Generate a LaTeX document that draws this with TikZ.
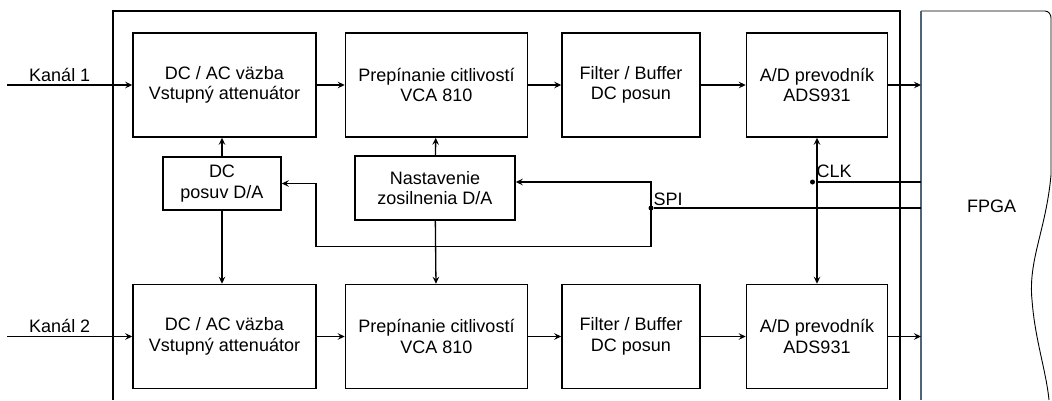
\documentclass[tikz,border=0pt]{standalone}
\usepackage{fontspec}
\setmainfont{Liberation Sans}
\usetikzlibrary{positioning, arrows.meta}

\definecolor{fpgahrana}{RGB}{80,100,120}

\begin{document}
\begin{tikzpicture}[
			x = 1pt, y = -1pt, % pixel grid, y going down
			> = {Stealth[length = 7pt, width = 6.5pt, inset = 2.5pt]}, % arrow head style
			line width = 1.3pt, % line style
			font=\fontsize{18}{20.5}\selectfont
			]
			
			\tikzstyle{blok}=[
			draw = black,
			line width = 1.5pt,
			align = center,
			inner sep = 0pt,
			minimum height = 104pt
			]
			\tikzstyle{bod}=[circle, fill = black, inner sep = 0pt, minimum size = 5pt]
			
			\useasboundingbox (0,0) rectangle (1052,400);
			
			% outer frame
			\draw[line width = 1.5pt] (113,400) -- (113,11) -- (900,11) -- (900,400);
			
			% FPGA
			\coordinate (fpga) at (921,0);
			\draw[line width = 0.9pt] (921,11) -- (1045,11) to[out=0,in=90] (1051,18) -- (1051,175)
				.. controls (1046,230) and (1028,260) .. (1032,300)
				.. controls (1035,340) and (1046,370) .. (1049,400);
			\draw[line width = 1.1pt, fpgahrana] (921,11) -- (921,400);
			\node (fpgatext) at (991.5,206.5) {FPGA};
			
			% channel 1
			\node[blok, minimum width = 183pt] (vstup1) at (224.5,85) {DC / AC väzba\\Vstupný attenuátor};
			\node[blok, minimum width = 182pt] (vca1) [right = 28pt of vstup1] {Prepínanie citlivostí\\VCA 810};
			\node[blok, minimum width = 138pt] (filter1) [right = 33pt of vca1] {Filter / Buffer\\DC posun};
			\node[blok, minimum width = 141pt] (adc1) [right = 45pt of filter1] {A/D prevodník\\ADS931};
			
			% channel 2
			\node[blok, minimum width = 183pt] (vstup2) [below = 146pt of vstup1] {DC / AC väzba\\Vstupný attenuátor};
			\node[blok, minimum width = 182pt] (vca2) [below = 146pt of vca1] {Prepínanie citlivostí\\VCA 810};
			\node[blok, minimum width = 138pt] (filter2) [below = 146pt of filter1] {Filter / Buffer\\DC posun};
			\node[blok, minimum width = 141pt] (adc2) [below = 146pt of adc1] {A/D prevodník\\ADS931};
			
			% D/A converters
			\node[blok, minimum width = 118pt, minimum height = 53pt] (dcposuv) at (222,183.5) {DC\\posuv D/A};
			\node[blok, minimum width = 160pt, minimum height = 64pt] (nastav) at (435,188) {Nastavenie\\zosilnenia D/A};
			
			\node[coordinate] (kanal1) [left = 125pt of vstup1.west] {};
			\node[coordinate] (kanal2) [left = 125pt of vstup2.west] {};
			
			\path[->]
			(kanal1)	edge node[above, pos = 0.42, inner sep = 3pt] {Kanál 1} (vstup1)
			(kanal2)	edge node[above, pos = 0.42, inner sep = 3pt] {Kanál 2} (vstup2)
			(vstup1)	edge (vca1)
			(vca1)		edge (filter1)
			(filter1)	edge (adc1)
			(adc1)		edge (adc1 -| fpga)
			(vstup2)	edge (vca2)
			(vca2)		edge (filter2)
			(filter2)	edge (adc2)
			(adc2)		edge (adc2 -| fpga)
			(dcposuv.north)	edge (dcposuv.north |- vstup1.south)
			(dcposuv.south)	edge (dcposuv.south |- vstup2.north)
			(nastav)	edge (vca1)
						edge (vca2)
			;
			
			% CLK
			\node[bod] (clk) at (812.5,182) {};
			\draw[<->] (adc1) -- (adc2);
			\draw (clk -| fpga) -- (clk);
			\node[anchor = base west, inner sep = 0pt] (clktext) at (816,177) {CLK};
			
			% SPI
			\node[bod] (spi) at (651,208) {};
			\coordinate (spihore) at (651,182);
			\coordinate (spidole) at (651,246.5);
			\coordinate (obchvat) at (316,246.5);
			\draw (spi -| fpga) -- (spi);
			\draw[->] (spi.center) -- (spihore) -- (spihore -| nastav.east);
			\draw[->] (spi.center) -- (spidole) -- (obchvat) |- (dcposuv.east);
			\node[anchor = base west, inner sep = 0pt] (spitext) at (653,205) {SPI};
		\end{tikzpicture}
\end{document}
